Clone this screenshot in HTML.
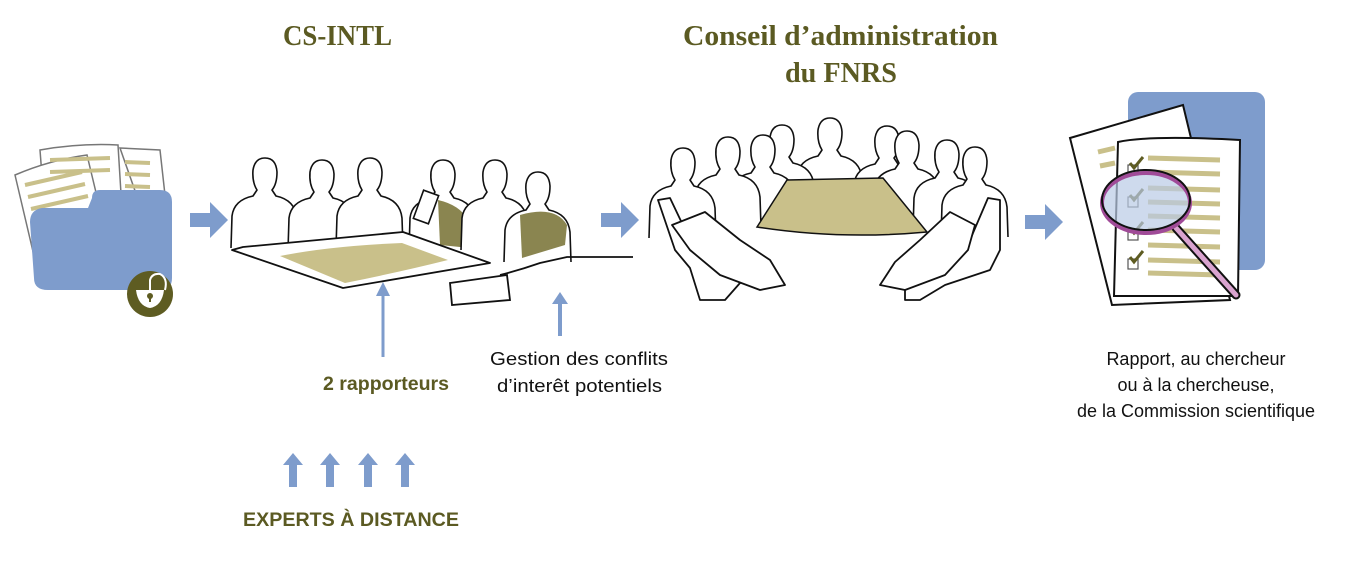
<!DOCTYPE html>
<html><head><meta charset="utf-8"><style>
html,body{margin:0;padding:0;background:#fff;width:1364px;height:584px;overflow:hidden}
svg{display:block}
</style></head><body>
<svg width="1364" height="584" viewBox="0 0 1364 584" xmlns="http://www.w3.org/2000/svg" font-family="Liberation Sans, sans-serif">
<defs>
<g id="p" fill="#fff" stroke="#111" stroke-width="1.6" stroke-linejoin="round">
<path d="M-34 70 L-33 38 Q-31 22 -12 18 L-8 12 Q-13 4 -12 -8 Q-10 -20 0 -20 Q11 -20 12 -6 Q12 6 7 12 L11 18 Q30 22 32 40 L33 70"/>
</g>
<path id="up" d="M-4 0 L4 0 L4 -22 L10 -22 L0 -34 L-10 -22 L-4 -22 Z" fill="#7e9ccc"/>
<path id="ar" d="M0 -7 L20 -7 L20 -18 L38 0 L20 18 L20 7 L0 7 Z" fill="#7e9ccc"/>
</defs>

<!-- titles -->
<g fill="#5b5a22" font-weight="bold" font-family="Liberation Serif, serif">
<text x="283" y="45" font-size="29" textLength="109" lengthAdjust="spacingAndGlyphs">CS-INTL</text>
<text x="683" y="45" font-size="29" textLength="315" lengthAdjust="spacingAndGlyphs">Conseil d’administration</text>
<text x="785" y="82" font-size="29" textLength="112" lengthAdjust="spacingAndGlyphs">du FNRS</text>
</g>
<g fill="#5b5a22" font-weight="bold">
<text x="323" y="390" font-size="19" textLength="126" lengthAdjust="spacingAndGlyphs">2 rapporteurs</text>
<text x="243" y="526" font-size="19" textLength="216" lengthAdjust="spacingAndGlyphs">EXPERTS À DISTANCE</text>
</g>
<g fill="#111" font-size="18">
<text x="490" y="365" textLength="178" lengthAdjust="spacingAndGlyphs">Gestion des conflits</text>
<text x="497" y="392" textLength="165" lengthAdjust="spacingAndGlyphs">d’interêt potentiels</text>
<text x="1196" y="365" text-anchor="middle">Rapport, au chercheur</text>
<text x="1196" y="391" text-anchor="middle">ou à la chercheuse,</text>
<text x="1196" y="417" text-anchor="middle">de la Commission scientifique</text>
</g>

<!-- folder -->
<g stroke="#777" stroke-width="1.5" fill="#fff">
<path d="M120 148 L160 150 L165 195 L140 205 Z"/>
<path d="M40 150 Q80 143 118 145 L122 210 L45 215 Z"/>
<path d="M15 175 Q50 160 87 155 L105 230 L35 260 Z"/>
</g>
<g stroke="#c9c08a" stroke-width="4">
<line x1="50" y1="160" x2="110" y2="158"/><line x1="50" y1="172" x2="110" y2="170"/>
<line x1="125" y1="162" x2="150" y2="163"/><line x1="125" y1="174" x2="150" y2="175"/><line x1="125" y1="186" x2="150" y2="187"/>
<line x1="25" y1="185" x2="82" y2="172"/><line x1="28" y1="197" x2="85" y2="184"/><line x1="31" y1="209" x2="88" y2="196"/>
</g>
<path d="M92 198 Q92 190 100 190 L160 190 Q172 190 172 202 L172 278 Q172 290 160 290 L48 290 Q34 290 34 278 L30 222 Q30 210 42 208 L88 208 Z" fill="#7e9ccc"/>
<circle cx="150" cy="294" r="23" fill="#5e5c22"/>
<path d="M136 290 L164 290 Q162 306 150 308 Q138 306 136 290 Z" fill="#fff"/>
<path d="M150 290 L150 280 Q152 273 160 274 Q168 278 165 290" fill="none" stroke="#fff" stroke-width="2"/>
<circle cx="150" cy="296" r="3" fill="#5e5c22"/><rect x="149" y="296" width="2" height="6" fill="#5e5c22"/>

<!-- arrows -->
<use href="#ar" x="190" y="220"/>
<use href="#ar" x="601" y="220"/>
<use href="#ar" x="1025" y="222"/>
<path d="M381.5 357 L384.5 357 L384.5 296 L390 296 L383 282 L376 296 L381.5 296 Z" fill="#7e9ccc"/>
<path d="M558 336 L562 336 L562 304 L568 304 L560 292 L552 304 L558 304 Z" fill="#7e9ccc"/>
<use href="#up" x="293" y="487"/><use href="#up" x="330" y="487"/><use href="#up" x="368" y="487"/><use href="#up" x="405" y="487"/>

<!-- CS-INTL scene -->
<use href="#p" x="265" y="178"/>
<use href="#p" x="322" y="180"/>
<use href="#p" x="370" y="178"/>
<g><use href="#p" x="443" y="180"/><path d="M438 200 Q460 205 468 220 L470 248 L440 245 Z" fill="#8a8550"/>
<rect x="418" y="192" width="16" height="30" fill="#fff" stroke="#111" stroke-width="1.6" transform="rotate(20 426 207)"/></g>
<use href="#p" x="495" y="180"/>
<g><use href="#p" x="538" y="192"/><path d="M520 215 Q555 205 567 225 L565 245 L522 258 Z" fill="#8a8550"/></g>
<path d="M232 250 L243 247 L403 232 L490 263 L343 288 Z" fill="#fff" stroke="#111" stroke-width="1.8" stroke-linejoin="round"/>
<path d="M280 256 Q330 246 402 243 L448 260 Q400 272 345 283 Z" fill="#c9c08a"/>
<path d="M450 283 L507 275 L510 300 L452 305 Z" fill="#fff" stroke="#111" stroke-width="1.8"/>
<path d="M500 275 Q520 270 540 263 L567 257 L633 257" fill="none" stroke="#111" stroke-width="1.8"/>

<!-- council scene -->
<g>
<use href="#p" x="830" y="138"/>
<use href="#p" x="782" y="145"/>
<use href="#p" x="763" y="155"/>
<use href="#p" x="887" y="146"/>
<use href="#p" x="907" y="151"/>
<use href="#p" x="728" y="157"/>
<use href="#p" x="947" y="160"/>
<use href="#p" x="683" y="168"/>
<use href="#p" x="975" y="167"/>
</g>
<path d="M787 180 L883 178 L927 232 Q840 240 757 227 Z" fill="#c9c08a" stroke="#111" stroke-width="1.5"/>
<g fill="#fff" stroke="#111" stroke-width="1.8" stroke-linejoin="round">
<path d="M658 200 L670 198 L690 240 L740 262 L760 275 L740 283 L725 300 L700 300 L690 268 L675 250 Z"/>
<path d="M672 225 L705 212 L740 240 L770 260 L785 285 L760 290 L720 275 L690 250 Z"/>
<path d="M1000 200 L988 198 L970 240 L925 262 L905 275 L905 300 L920 300 L945 285 L990 270 L1000 250 Z"/>
<path d="M975 225 L950 212 L920 240 L895 262 L880 285 L905 290 L945 275 L968 250 Z"/>
</g>

<!-- report -->
<rect x="1128" y="92" width="137" height="178" rx="10" fill="#7e9ccc"/>
<path d="M1070 138 L1183 105 L1230 300 L1112 305 Z" fill="#fff" stroke="#111" stroke-width="2"/>
<path d="M1118 142 Q1150 135 1240 140 L1238 296 L1114 296 Z" fill="#fff" stroke="#111" stroke-width="2"/>
<g stroke="#c9c08a" stroke-width="5">
<line x1="1098" y1="152" x2="1115" y2="148"/><line x1="1100" y1="166" x2="1115" y2="163"/>
<line x1="1148" y1="158" x2="1220" y2="160"/><line x1="1148" y1="172" x2="1220" y2="174"/>
<line x1="1148" y1="188" x2="1220" y2="190"/><line x1="1148" y1="202" x2="1220" y2="204"/>
<line x1="1148" y1="216" x2="1220" y2="218"/><line x1="1148" y1="230" x2="1220" y2="232"/>
<line x1="1148" y1="245" x2="1220" y2="247"/><line x1="1148" y1="260" x2="1220" y2="262"/>
<line x1="1148" y1="273" x2="1220" y2="275"/>
</g>
<g fill="none" stroke="#555" stroke-width="1.2">
<rect x="1128" y="165" width="10" height="10"/><rect x="1128" y="197" width="10" height="10"/><rect x="1128" y="230" width="10" height="10"/><rect x="1128" y="259" width="10" height="10"/>
</g>
<g fill="none" stroke="#5e5c22" stroke-width="3">
<path d="M1130 163 L1134 168 L1143 157"/><path d="M1130 195 L1134 200 L1143 189"/><path d="M1130 228 L1134 233 L1143 222"/><path d="M1130 257 L1134 262 L1143 251"/>
</g>
<path d="M1176 228 L1236 295" stroke="#111" stroke-width="9" stroke-linecap="round"/>
<path d="M1176 228 L1236 295" stroke="#d9a3cf" stroke-width="5" stroke-linecap="round"/>
<ellipse cx="1146" cy="203" rx="44" ry="30" fill="#b9cae6" fill-opacity="0.7" stroke="#a04b98" stroke-width="4"/>
<ellipse cx="1146" cy="200" rx="44" ry="30" fill="none" stroke="#111" stroke-width="2"/>
</svg>
</body></html>
